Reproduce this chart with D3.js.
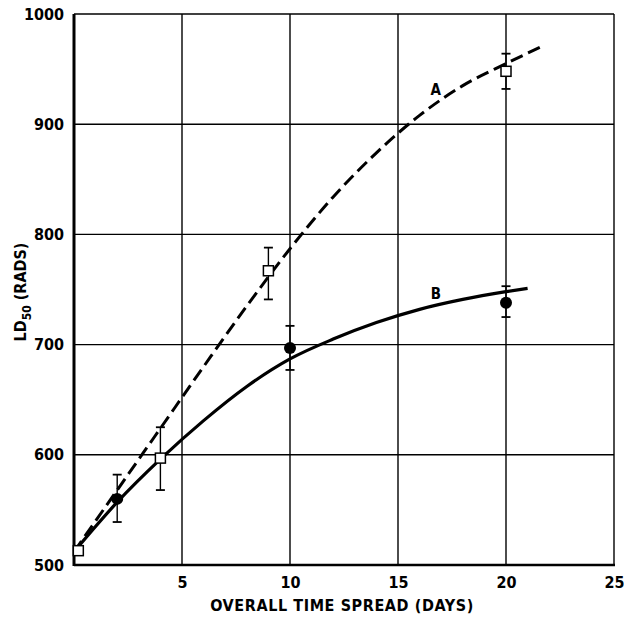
<!DOCTYPE html>
<html>
<head>
<meta charset="utf-8">
<script src="https://cdn.jsdelivr.net/npm/d3@7"></script>
<style>
  html, body { margin: 0; padding: 0; background: #fff; }
  text { font-family: "DejaVu Sans Condensed", "DejaVu Sans", sans-serif; fill: #000; }
</style>
</head>
<body>
<svg id="chart" width="624" height="618"></svg>
<script>
// ---- data ----
const xTicks = [5, 10, 15, 20, 25];
const yTicks = [500, 600, 700, 800, 900, 1000];

// Curve A (dashed)
const curveAx = [0, 2, 4, 6, 8, 10, 12, 14, 16, 18, 20, 21.6];
const curveAy = [512, 568, 624, 680, 735, 787, 834, 874, 908, 935, 955, 970];

// Curve B (solid)
const curveBx = [0, 2, 4, 6, 8, 10, 12, 14, 16, 18, 20, 21];
const curveBy = [512, 557, 596, 631, 662, 687, 705, 720, 732, 741, 748, 751];

// Open squares (series A data)
const squareX = [0.2, 4, 9, 20];
const squareY = [513, 597, 767, 948];
const squareLo = [null, 568, 741, 932];
const squareHi = [null, 625, 788, 964];

// Filled circles (series B data)
const circleX = [2, 10, 20];
const circleY = [560, 697, 738];
const circleLo = [539, 677, 725];
const circleHi = [582, 717, 753];

const labelA = { text: "A", x: 16.75, y: 932 };
const labelB = { text: "B", x: 16.75, y: 747 };

// ---- layout ----
const svg = d3.select("#chart");
const mLeft = 74, mRight = 614, mTop = 14, mBottom = 565;
const x = d3.scaleLinear().domain([0, 25]).range([mLeft, mRight]);
const y = d3.scaleLinear().domain([500, 1000]).range([mBottom, mTop]);

svg.append("rect").attr("width", 624).attr("height", 618).attr("fill", "#fff");

// grid
const grid = svg.append("g");
grid.selectAll("line.vx").data(xTicks).enter().append("line")
  .attr("x1", d => x(d)).attr("x2", d => x(d))
  .attr("y1", mTop).attr("y2", mBottom)
  .attr("stroke", "#000").attr("stroke-width", 1.4);
grid.selectAll("line.hy").data(yTicks).enter().append("line")
  .attr("x1", mLeft).attr("x2", mRight)
  .attr("y1", d => y(d)).attr("y2", d => y(d))
  .attr("stroke", "#000").attr("stroke-width", 1.4);

// axes borders
svg.append("line").attr("x1", mLeft).attr("x2", mLeft).attr("y1", mTop).attr("y2", mBottom + 1)
  .attr("stroke", "#000").attr("stroke-width", 3);
svg.append("line").attr("x1", mLeft).attr("x2", mRight + 1).attr("y1", mBottom).attr("y2", mBottom)
  .attr("stroke", "#000").attr("stroke-width", 2.6);

// axis labels via d3 axes (no domain/ticks drawn)
const xAxis = svg.append("g").attr("transform", `translate(0,${mBottom})`)
  .call(d3.axisBottom(x).tickValues(xTicks).tickFormat(d3.format("d")).tickSize(0).tickPadding(12));
xAxis.select(".domain").remove();
xAxis.selectAll("text").attr("font-size", 16).attr("font-family", "DejaVu Sans Condensed").attr("font-weight", 600);

const yAxis = svg.append("g").attr("transform", `translate(${mLeft},0)`)
  .call(d3.axisLeft(y).tickValues(yTicks).tickFormat(d3.format("d")).tickSize(0).tickPadding(10));
yAxis.select(".domain").remove();
yAxis.selectAll("text").attr("font-size", 16).attr("font-family", "DejaVu Sans Condensed").attr("font-weight", 600);

// titles
svg.append("text").attr("x", (mLeft + mRight) / 2 - 2).attr("y", 611)
  .attr("text-anchor", "middle").attr("font-size", 16).attr("font-weight", 600)
  .attr("letter-spacing", 0.6)
  .text("OVERALL TIME SPREAD (DAYS)");

const yt = svg.append("text").attr("transform", `translate(26,${292}) rotate(-90)`)
  .attr("text-anchor", "middle").attr("font-size", 16).attr("font-weight", 600);
yt.append("tspan").text("LD");
yt.append("tspan").attr("font-size", 12).attr("dy", 5).text("50");
yt.append("tspan").attr("dy", -5).text(" (RADS)");

// curves
const line = d3.line().x(d => x(d[0])).y(d => y(d[1])).curve(d3.curveMonotoneX);
svg.append("path").datum(curveAx.map((v, i) => [v, curveAy[i]]))
  .attr("d", line).attr("fill", "none").attr("stroke", "#000")
  .attr("stroke-width", 3).attr("stroke-dasharray", "13,6");
svg.append("path").datum(curveBx.map((v, i) => [v, curveBy[i]]))
  .attr("d", line).attr("fill", "none").attr("stroke", "#000")
  .attr("stroke-width", 3.2);

// error bars
function errBars(xs, lo, hi) {
  const g = svg.append("g");
  xs.forEach((xv, i) => {
    if (lo[i] == null) return;
    g.append("line").attr("x1", x(xv)).attr("x2", x(xv)).attr("y1", y(lo[i])).attr("y2", y(hi[i]))
      .attr("stroke", "#000").attr("stroke-width", 1.4);
    [lo[i], hi[i]].forEach(v => {
      g.append("line").attr("x1", x(xv) - 4.5).attr("x2", x(xv) + 4.5)
        .attr("y1", y(v)).attr("y2", y(v)).attr("stroke", "#000").attr("stroke-width", 1.8);
    });
  });
}
errBars(squareX, squareLo, squareHi);
errBars(circleX, circleLo, circleHi);

// markers
svg.selectAll("rect.sq").data(squareX.map((v, i) => [v, squareY[i]])).enter().append("rect")
  .attr("x", d => x(d[0]) - 5).attr("y", d => y(d[1]) - 5)
  .attr("width", 10).attr("height", 10)
  .attr("fill", "#fff").attr("stroke", "#000").attr("stroke-width", 1.5);
svg.selectAll("circle.ci").data(circleX.map((v, i) => [v, circleY[i]])).enter().append("circle")
  .attr("cx", d => x(d[0])).attr("cy", d => y(d[1])).attr("r", 6).attr("fill", "#000");

// curve labels
[labelA, labelB].forEach(l => {
  svg.append("text").attr("x", x(l.x)).attr("y", y(l.y) + 6)
    .attr("text-anchor", "middle").attr("font-size", 15).attr("font-weight", 700)
    .text(l.text);
});
</script>
</body>
</html>
